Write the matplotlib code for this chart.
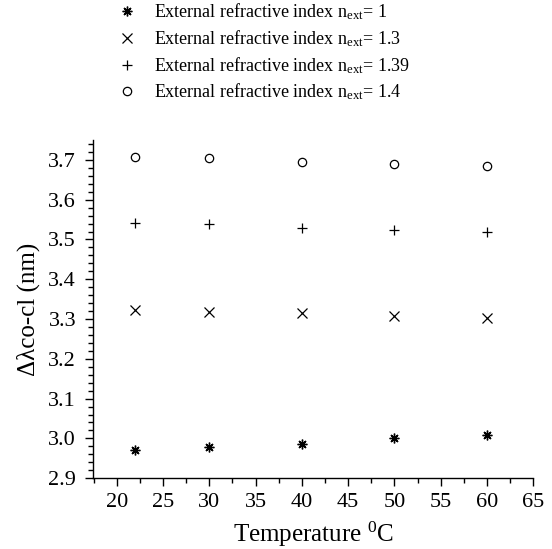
import matplotlib
matplotlib.use("Agg")
import matplotlib.pyplot as plt
from matplotlib.ticker import MultipleLocator

plt.rcParams['font.family'] = ['Liberation Serif', 'DejaVu Serif']
plt.rcParams['mathtext.fontset'] = 'custom'
plt.rcParams['mathtext.rm'] = 'Liberation Serif'
plt.rcParams['mathtext.it'] = 'Liberation Serif:italic'

temperature = [22, 30, 40, 50, 60]
n_1 = [2.972, 2.979, 2.986, 3.002, 3.008]
n_13 = [3.322, 3.318, 3.315, 3.308, 3.303]
n_139 = [3.541, 3.538, 3.530, 3.523, 3.520]
n_14 = [3.708, 3.704, 3.694, 3.689, 3.684]
labels = [r"External refractive index n$_{\rm ext}$= 1",
          r"External refractive index n$_{\rm ext}$= 1.3",
          r"External refractive index n$_{\rm ext}$= 1.39",
          r"External refractive index n$_{\rm ext}$= 1.4"]
yticks = [2.9, 3.0, 3.1, 3.2, 3.3, 3.4, 3.5, 3.6, 3.7]
ytick_labels = ["2.9", "3.0", "3.1", "3.2", "3.3", "3.4", "3.5", "3.6", "3.7"]

fig = plt.figure(figsize=(5.52, 5.49), dpi=100)
ax = fig.add_axes([0.168, 0.129, 0.798, 0.616])

ax.plot(temperature, n_1, linestyle='none', marker=(8, 2, 0), markersize=7,
        color='black', markeredgewidth=1.0, label=labels[0])
ax.plot(temperature, n_13, linestyle='none', marker='x', markersize=7,
        color='black', markeredgewidth=0.9, label=labels[1])
ax.plot(temperature, n_139, linestyle='none', marker='+', markersize=7,
        color='black', markeredgewidth=0.9, label=labels[2])
ax.plot(temperature, n_14, linestyle='none', marker='o', markersize=6,
        markerfacecolor='none', markeredgecolor='black', markeredgewidth=0.9,
        label=labels[3])

ax.set_xlim(17.4, 65)
ax.set_ylim(2.9, 3.75)
ax.xaxis.set_major_locator(MultipleLocator(5))
ax.xaxis.set_minor_locator(MultipleLocator(2.5))
ax.yaxis.set_minor_locator(MultipleLocator(0.02))
ax.set_yticks(yticks)
ax.set_yticklabels(ytick_labels)

for s in ['top', 'right']:
    ax.spines[s].set_visible(False)
for s in ['left', 'bottom']:
    ax.spines[s].set_linewidth(1.0)
ax.tick_params(which='major', direction='out', length=6, width=1.0, labelsize=16)
ax.tick_params(axis='y', which='major', pad=6)
ax.tick_params(axis='x', which='major', pad=5)
ax.tick_params(which='minor', direction='out', length=3.5, width=1.0)

ax.set_xlabel(r"Temperature $^{0}$C", fontsize=18, labelpad=5)
ax.set_ylabel("Δλco-cl (nm)", fontsize=18, labelpad=6)

fig.legend(loc='upper left', bbox_to_anchor=(0.2, 1.01), frameon=False,
           fontsize=13, handlelength=1.0, handletextpad=1.0, labelspacing=0.33,
           borderaxespad=0.0)

fig.savefig("out.png", dpi=100)
